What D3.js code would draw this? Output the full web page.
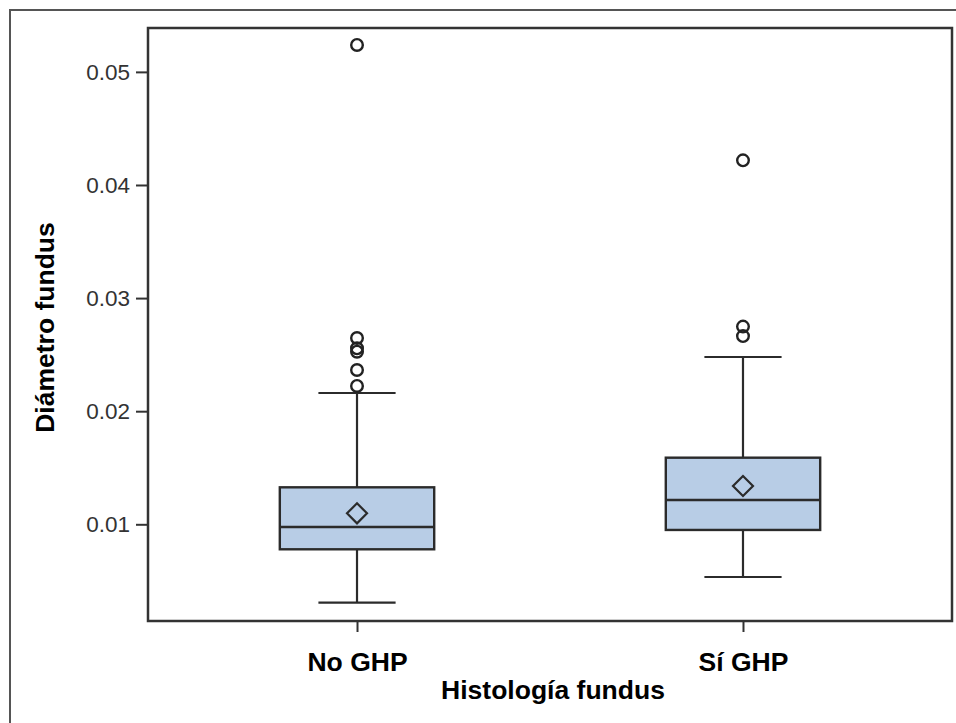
<!DOCTYPE html>
<html><head><meta charset="utf-8">
<script src="https://cdn.jsdelivr.net/npm/d3@7"></script>
<style>html,body{margin:0;padding:0;background:#fff;} svg{display:block;font-family:"Liberation Sans",Arial,sans-serif;}</style>
</head><body>
<svg id="chart" width="956" height="723"></svg>
<script>
const categories = ["No GHP", "Sí GHP"];
const q1 = [0.00779, 0.00950];
const median = [0.00976, 0.01215];
const q3 = [0.01327, 0.01589];
const mean = [0.01097, 0.01339];
const whiskerLow = [0.00307, 0.00534];
const whiskerHigh = [0.02161, 0.02479];
const outliers = [
  [0.02223, 0.02364, 0.02526, 0.02556, 0.02647, 0.05238],
  [0.02664, 0.02748, 0.04218]
];
const yTicks = [0.01, 0.02, 0.03, 0.04, 0.05];
const yLabel = "Diámetro fundus";
const xLabel = "Histología fundus";

const svg = d3.select("#chart");
const L = 148, R = 952, T = 28, B = 621;

// outer frame
svg.append("rect").attr("x", 10).attr("y", 10).attr("width", 1000).attr("height", 800)
  .attr("fill", "none").attr("stroke", "#555").attr("stroke-width", 2);

const x = d3.scalePoint().domain(categories).range([L, R]).padding(0.5415);
const y = d3.scaleLinear().domain([0.00145, 0.05388]).range([B, T]);

// y axis
const yAxis = d3.axisLeft(y).tickValues(yTicks).tickSize(12).tickPadding(6).tickFormat(d3.format(".2f"));
const gy = svg.append("g").attr("transform", `translate(${L},0)`).call(yAxis);
gy.select(".domain").remove();
gy.selectAll(".tick line").attr("stroke", "#333").attr("stroke-width", 2);
gy.selectAll(".tick text").attr("fill", "#333").style("font-size", "22.5px").style("font-family", "'Liberation Sans',Arial,sans-serif");

// x axis
const xAxis = d3.axisBottom(x).tickSize(11).tickPadding(20);
const gx = svg.append("g").attr("transform", `translate(0,${B})`).call(xAxis);
gx.select(".domain").remove();
gx.selectAll(".tick line").attr("stroke", "#333").attr("stroke-width", 2);
gx.selectAll(".tick text").attr("fill", "#000").style("font-size", "26.5px").style("font-weight", "bold").style("font-family", "'Liberation Sans',Arial,sans-serif");

// plot frame
svg.append("rect").attr("x", L).attr("y", T).attr("width", R - L).attr("height", B - T)
  .attr("fill", "none").attr("stroke", "#333").attr("stroke-width", 2.5);

const boxW = x.step() * 0.4;
const capW = boxW / 2;
const stroke = "#2b2b2b";

const data = categories.map((c, i) => ({c, q1: q1[i], med: median[i], q3: q3[i], mean: mean[i], lo: whiskerLow[i], hi: whiskerHigh[i], out: outliers[i]}));
const g = svg.append("g");
data.forEach(d => {
  const cx = x(d.c);
  g.append("line").attr("x1", cx).attr("x2", cx).attr("y1", y(d.hi)).attr("y2", y(d.q3)).attr("stroke", stroke).attr("stroke-width", 2.2);
  g.append("line").attr("x1", cx).attr("x2", cx).attr("y1", y(d.q1)).attr("y2", y(d.lo)).attr("stroke", stroke).attr("stroke-width", 2.2);
  g.append("line").attr("x1", cx - capW / 2).attr("x2", cx + capW / 2).attr("y1", y(d.hi)).attr("y2", y(d.hi)).attr("stroke", stroke).attr("stroke-width", 2.2);
  g.append("line").attr("x1", cx - capW / 2).attr("x2", cx + capW / 2).attr("y1", y(d.lo)).attr("y2", y(d.lo)).attr("stroke", stroke).attr("stroke-width", 2.2);
  g.append("rect").attr("x", cx - boxW / 2).attr("y", y(d.q3)).attr("width", boxW).attr("height", y(d.q1) - y(d.q3))
    .attr("fill", "#b8cde6").attr("stroke", stroke).attr("stroke-width", 2.4);
  g.append("line").attr("x1", cx - boxW / 2).attr("x2", cx + boxW / 2).attr("y1", y(d.med)).attr("y2", y(d.med)).attr("stroke", stroke).attr("stroke-width", 2.4);
  const my = y(d.mean), s = 10;
  g.append("path").attr("d", `M${cx},${my - s}L${cx + s},${my}L${cx},${my + s}L${cx - s},${my}Z`)
    .attr("fill", "none").attr("stroke", stroke).attr("stroke-width", 2.2);
  g.selectAll(null).data(d.out).enter().append("circle")
    .attr("cx", cx).attr("cy", v => y(v)).attr("r", 5.8)
    .attr("fill", "none").attr("stroke", "#222").attr("stroke-width", 2.4);
});

svg.append("text").attr("x", 553).attr("y", 699).attr("text-anchor", "middle")
  .style("font-size", "26.5px").style("font-weight", "bold").attr("fill", "#000").text(xLabel);
svg.append("text").attr("transform", `translate(54,${(T + B) / 2 + 3}) rotate(-90)`).attr("text-anchor", "middle")
  .style("font-size", "26.5px").style("font-weight", "bold").attr("fill", "#000").text(yLabel);
</script>
</body></html>
